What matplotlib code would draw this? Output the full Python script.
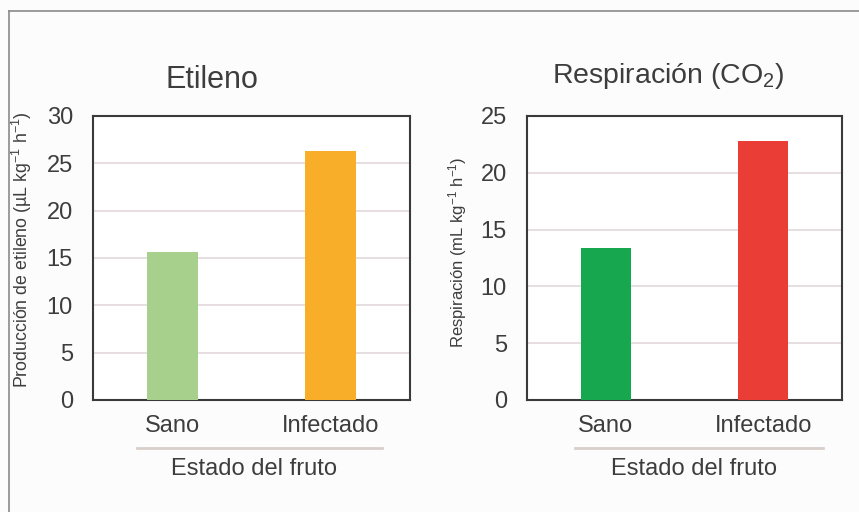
import matplotlib.pyplot as plt
from matplotlib.lines import Line2D

plt.rcParams['font.family'] = ['Liberation Sans', 'DejaVu Sans']
plt.rcParams['mathtext.fontset'] = 'custom'
plt.rcParams['mathtext.rm'] = 'Liberation Sans'
plt.rcParams['mathtext.it'] = 'Liberation Sans'

# datos
estados = ['Sano', 'Infectado']
etileno = [15.6, 26.3]
respiracion = [13.4, 22.8]
colores_etileno = ['#a8d08d', '#f8ae28']
colores_resp = ['#17a84f', '#ea3d36']
yticks_etileno = [0, 5, 10, 15, 20, 25, 30]
yticks_resp = [0, 5, 10, 15, 20, 25]

texto = '#3d3d3d'
fig = plt.figure(figsize=(8.59, 5.12), dpi=100, facecolor='#fcfcfc')

# borde de la imagen (arriba e izquierda)
fig.add_artist(Line2D([9/859, 9/859], [0, 1 - 11/512], transform=fig.transFigure, color='#8a8a8a', lw=1.2))
fig.add_artist(Line2D([9/859, 1], [1 - 11/512, 1 - 11/512], transform=fig.transFigure, color='#8a8a8a', lw=1.2))

paneles = [
    dict(rect=[93/859, 1 - 400/512, 317/859, 284/512], vals=etileno, cols=colores_etileno,
         yt=yticks_etileno, ylab=r'Producción de etileno (µL kg$^{-1}$ h$^{-1}$)', ylx=22/859, yly=250, yfs=12.8,
         titulo='Etileno', tx=212/859, ty=80, tfs=22, lx=(137, 382), ex=254/859),
    dict(rect=[527/859, 1 - 400/512, 315/859, 284/512], vals=respiracion, cols=colores_resp,
         yt=yticks_resp, ylab=r'Respiración (mL kg$^{-1}$ h$^{-1}$)', ylx=458/859, yly=252, yfs=12,
         titulo=r'Respiración (CO$_2$)', tx=668/859, ty=76, tfs=20.5, lx=(575, 823), ex=694/859),
]

for p in paneles:
    ax = fig.add_axes(p['rect'])
    ax.set_facecolor('white')
    x = range(len(estados))
    ax.bar(x, p['vals'], width=0.32, color=p['cols'], zorder=3)
    ax.set_xlim(-0.5, 1.5)
    ax.set_ylim(0, p['yt'][-1])
    ax.set_yticks(p['yt'])
    ax.set_xticks(list(x))
    ax.set_xticklabels(estados)
    ax.grid(axis='y', color='#e3d9d9', lw=1.2, zorder=0)
    ax.tick_params(length=0, labelsize=17, colors=texto, pad=14.5)
    ax.tick_params(axis='x', pad=11)
    for s in ax.spines.values():
        s.set_color('#3a3a3a')
        s.set_linewidth(1.5)
    fig.text(p['ylx'], 1 - p['yly']/512, p['ylab'], rotation=90, ha='center', va='center',
             fontsize=p['yfs'], color=texto)
    fig.text(p['tx'], 1 - p['ty']/512, p['titulo'], ha='center', va='center', fontsize=p['tfs'], color=texto)
    fig.add_artist(Line2D([p['lx'][0]/859, p['lx'][1]/859], [1 - 448/512, 1 - 448/512],
                          transform=fig.transFigure, color='#d8cfcb', lw=2))
    fig.text(p['ex'], 1 - 469/512, 'Estado del fruto', ha='center', va='center',
             fontsize=17, color=texto)

fig.savefig('out.png', dpi=100, facecolor=fig.get_facecolor())
